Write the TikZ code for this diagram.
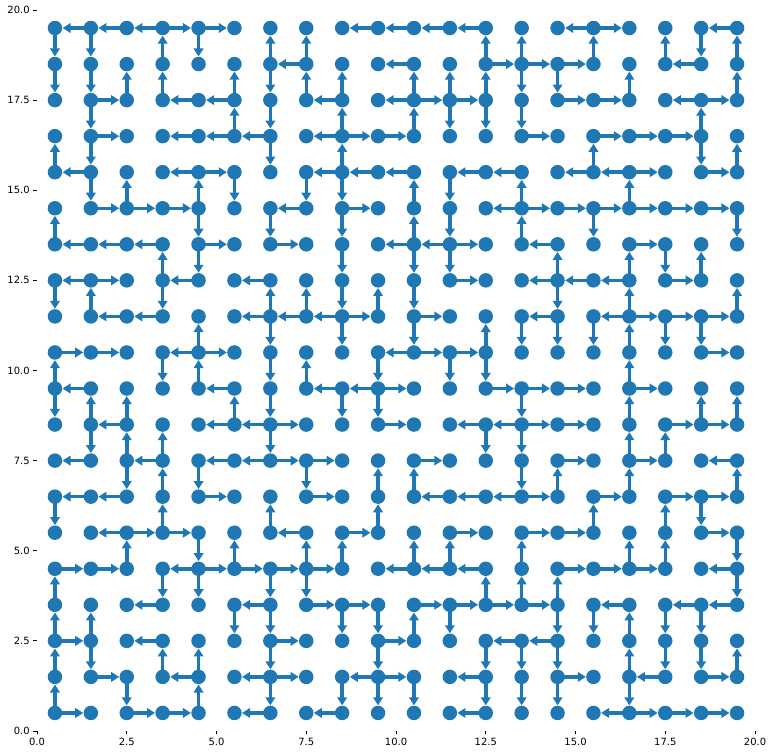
\documentclass[tikz,border=0pt]{standalone}
\usepackage{fontspec}
\setmainfont{DejaVu Sans}
\usetikzlibrary{arrows.meta}
\definecolor{mplblue}{RGB}{31,119,180}
\newcommand\mazeH[2]{\foreach \ma/\mb in {#2}{\draw[edge] (n\ma-#1.center) -- (n\mb-#1);}}
\newcommand\mazeV[3]{\pgfmathtruncatemacro\mrlo{#1+1}%
  \foreach \mc in {#2}{\draw[edge] (n\mc-#1.center) -- (n\mc-\mrlo);}%
  \foreach \mc in {#3}{\draw[edge] (n\mc-\mrlo.center) -- (n\mc-#1);}}
\begin{document}
\begin{tikzpicture}[x=0.718cm,y=0.721cm,
  pt/.style={circle,fill=mplblue,inner sep=0pt,minimum size=0.29cm},
  edge/.style={draw=mplblue,line width=0.07cm,-{Triangle[length=0.16cm,width=0.19cm]}},
  tickmark/.style={line width=0.016cm,black},
  ticklab/.style={font=\fontsize{5.67pt}{6.8pt}\selectfont,inner sep=0pt,text=black}]
\useasboundingbox (-1.0306,-0.6657) rectangle (20.529,20.277);
% axis ticks
\foreach \v/\t [count=\i] in {0/0.0,2.5/2.5,5/5.0,7.5/7.5,10/10.0,12.5/12.5,15/15.0,17.5/17.5,20/20.0}{
  \draw[tickmark] (0,\v) -- ++(-0.07cm,0) coordinate (ytk\i);
  \node[ticklab,anchor=east,xshift=-0.07cm] (ylab\i) at (ytk\i) {\t};
  \draw[tickmark] (\v,0) -- ++(0,-0.07cm) coordinate (xtk\i);
  \node[ticklab,anchor=north,yshift=-0.07cm] (xlab\i) at (xtk\i) {\t};
}
% grid points
\foreach \c in {0,...,19}{\foreach \r in {0,...,19}{\node[pt] (n\c-\r) at (\c+0.5,19.5-\r) {};}}
% horizontal connectors (row index from top)
\mazeH{0}{1/0,2/1,3/2,3/4,4/5,9/8,10/9,11/10,12/11,15/14,15/16,19/18}
\mazeH{1}{7/6,10/9,12/13,13/14,14/15,18/17}
\mazeH{2}{1/2,4/3,5/4,8/7,10/9,10/11,11/12,14/15,15/16,18/17,18/19}
\mazeH{3}{1/2,4/3,5/4,6/5,8/7,8/9,9/10,13/14,15/16,16/17,17/18}
\mazeH{4}{1/0,4/3,4/5,8/7,9/8,10/9,12/11,13/12,15/14,16/15,16/17,18/19}
\mazeH{5}{1/2,2/3,3/4,7/6,8/9,13/12,13/14,14/15,15/16,16/17,17/18,18/19}
\mazeH{6}{1/0,2/1,3/2,4/5,6/7,10/9,11/10,11/12,14/13,16/17}
\mazeH{7}{1/0,1/2,4/3,6/5,11/12,14/13,15/14,16/15,17/18}
\mazeH{8}{2/1,3/2,6/5,7/6,8/7,8/9,10/11,14/13,16/15,16/17,17/18,18/19}
\mazeH{9}{0/1,1/2,4/3,4/5,10/9,10/11,11/12,18/19}
\mazeH{10}{1/0,5/4,8/7,9/8,9/10,12/13,13/14,14/15,16/17}
\mazeH{11}{2/1,5/4,6/5,6/7,9/10,12/11,13/12,13/14,14/15,17/18,18/19}
\mazeH{12}{1/0,3/2,5/4,6/5,6/7,7/8,10/11,14/15,16/17,19/18}
\mazeH{13}{1/0,2/1,4/5,7/8,11/10,12/11,13/12,13/14,15/16,17/18,18/19}
\mazeH{14}{2/1,2/3,3/4,7/6,8/9,11/12,13/14,14/15,18/19}
\mazeH{15}{0/1,1/2,4/3,4/5,5/6,6/7,7/8,10/9,11/10,12/11,14/15,15/16,16/17,19/18}
\mazeH{16}{3/2,6/5,7/8,8/9,10/11,11/12,12/13,13/14,16/15,18/17,19/18}
\mazeH{17}{0/1,3/2,6/7,9/10,13/12,14/13}
\mazeH{18}{1/2,4/3,6/5,6/7,9/8,9/10,12/11,14/15,17/16,18/19}
\mazeH{19}{0/1,2/3,3/4,6/5,8/7,12/11,16/15,16/17,17/18,18/19}
% vertical connectors: gap, columns pointing down, columns pointing up
\mazeV{0}{0,1,4,18}{3,6,7,12,13,15,17,19}
\mazeV{1}{0,1,6,13,14}{2,3,5,7,8,10,11,12,16,19}
\mazeV{2}{1,6,11,12,13}{5,8,10,18}
\mazeV{3}{1,6,18}{0,8,15,19}
\mazeV{4}{1,5,7,8,11}{2,4,10,13,16}
\mazeV{5}{4,6,8,11,15,19}{0,10,13}
\mazeV{6}{4,8,10,11,17}{3,14,16,18}
\mazeV{7}{0,3,8,10,14}{1,6,7,9,16,19}
\mazeV{8}{6,8,10,13,14,15,17,18}{4,12,16}
\mazeV{9}{3,6,9,11,12}{0,4,7,16}
\mazeV{10}{0,6,8,9,13}{1,2,5,16,18,19}
\mazeV{11}{1,6,12,13}{2,3,16,17}
\mazeV{12}{2,4,7,13}{3,9,10,14,16,19}
\mazeV{13}{0,18}{3,6,9,15,17}
\mazeV{14}{4,19}{2,5,7,8,10,11,13,16,17}
\mazeV{15}{3,4,6,7,19}{0,12,13,14}
\mazeV{16}{5,6,8,9,11,14,15,17,18}{0,1,10,16}
\mazeV{17}{1,6,9,12,13,14,17,18}{0,3,4,16,19}
\mazeV{18}{2,6,8,9,10,12,13,14,16}{0,4}
\end{tikzpicture}
\end{document}
